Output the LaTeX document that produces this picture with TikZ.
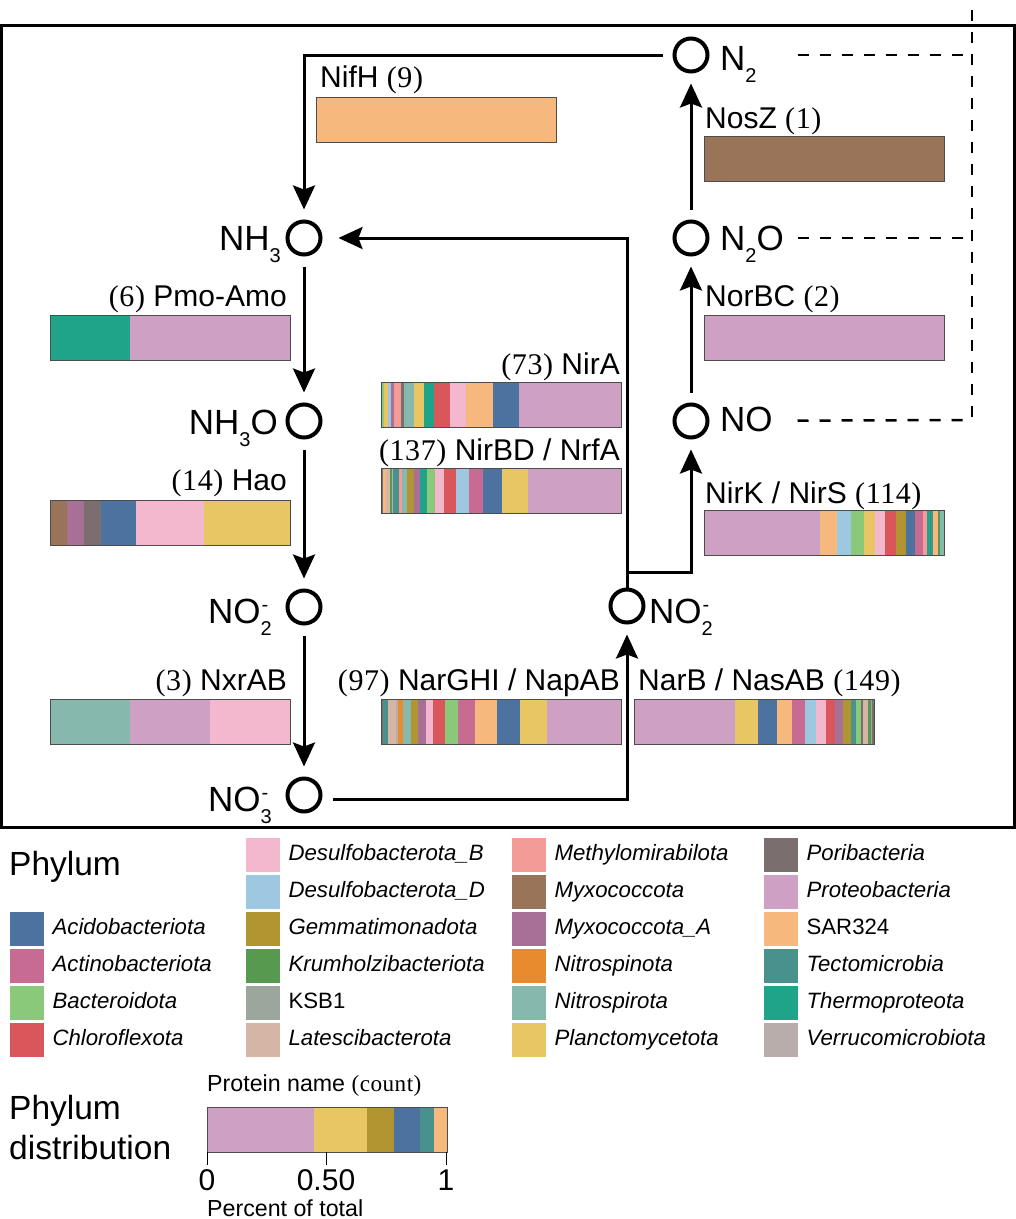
\documentclass[tikz,border=0pt]{standalone}
\usepackage{fontspec}
\usepackage{xcolor}
\setmainfont{Liberation Sans}
\newfontfamily\countfont[LetterSpace=2]{Liberation Serif}
\usetikzlibrary{arrows.meta}

\definecolor{phAcido}{HTML}{4C72A0}
\definecolor{phActino}{HTML}{C76B92}
\definecolor{phBactero}{HTML}{8BC97A}
\definecolor{phChloro}{HTML}{D9575B}
\definecolor{phDesulfB}{HTML}{F4B8CE}
\definecolor{phDesulfD}{HTML}{9EC8E2}
\definecolor{phGemma}{HTML}{B09530}
\definecolor{phKrumh}{HTML}{57994F}
\definecolor{phKSB}{HTML}{9CA69C}
\definecolor{phLatesci}{HTML}{D4B5A6}
\definecolor{phMethyl}{HTML}{F29B97}
\definecolor{phMyxo}{HTML}{9A7459}
\definecolor{phMyxoA}{HTML}{A87096}
\definecolor{phNitrospin}{HTML}{E88A2E}
\definecolor{phNitrospir}{HTML}{86B8AE}
\definecolor{phPlancto}{HTML}{E8C664}
\definecolor{phPori}{HTML}{7A6E6E}
\definecolor{phProteo}{HTML}{CDA0C4}
\definecolor{phSAR}{HTML}{F6B87C}
\definecolor{phTecto}{HTML}{48918C}
\definecolor{phThermo}{HTML}{1FA48A}
\definecolor{phVerruco}{HTML}{B8ADAA}

\newcommand{\cnt}[1]{{\countfont #1}}
\newcommand{\chemsub}[1]{\raisebox{-12pt}{\fontsize{20}{20}\selectfont #1}}
\newcommand{\chemion}[1]{\rlap{\raisebox{-12pt}{\fontsize{20}{20}\selectfont #1}}\raisebox{12pt}{\fontsize{20}{20}\selectfont\hspace{1pt}-}}
% barra apilada: x, y, total, lista color/cuenta
\newcommand{\stackbar}[4]{%
  \gdef\barpos{0}
  \foreach \col/\num in {#4}{
    \pgfmathsetmacro\barnext{\barpos+\num}
    \fill[\col] ({#1+240/#3*\barpos},#2) rectangle ({#1+240/#3*\barnext},#2+45);
    \global\let\barpos\barnext
  }
  \draw[barframe] (#1,#2) rectangle ++(240,45);
}

\begin{document}
\begin{tikzpicture}[x=1pt,y=-1pt,
  chem/.style={circle,draw,line width=4pt,minimum size=33pt,inner sep=0pt},
  chemlabel/.style={font=\fontsize{35}{35}\selectfont,inner sep=0pt},
  protein/.style={font=\fontsize{30}{30}\selectfont,inner sep=0pt},
  flow/.style={-{Stealth[length=24pt,width=22pt,inset=4pt]},line width=3pt,shorten >=10pt,shorten <=10pt},
  link/.style={line width=2.5pt,dash pattern=on 11pt off 11pt},
  barframe/.style={draw=black!70,line width=1pt},
  swatch/.style={minimum size=34pt,inner sep=0pt},
  phylumlabel/.style={font=\fontsize{22.2}{24}\selectfont\itshape,inner sep=0pt},
  heading/.style={font=\fontsize{33.5}{34}\selectfont,inner sep=0pt},
  small/.style={font=\fontsize{23.2}{24}\selectfont,inner sep=0pt},
  ticklabel/.style={font=\fontsize{30}{30}\selectfont,inner sep=0pt}]
\useasboundingbox (0,0) rectangle (1016,1219);

% Marco
\draw[line width=3pt] (1,25) rectangle (1014,827);
\draw[line width=3pt] (0,827) -- (1016,827);

% Compuestos
\node[chem] (n2) at (691,55) {};
\node[chem] (n2o) at (691,238) {};
\node[chem] (no) at (691,421) {};
\node[chem] (nh3) at (304,238) {};
\node[chem] (nh2o) at (304,421) {};
\node[chem] (no2a) at (304,607) {};
\node[chem] (no3) at (304,795) {};
\node[chem] (no2b) at (627,606) {};
\node[chemlabel,anchor=base west] (n2text) at (720,70) {N\chemsub{2}};
\node[chemlabel,anchor=base west] (n2otext) at (720,250) {N\chemsub{2}O};
\node[chemlabel,anchor=base west] (notext) at (720,431) {NO};
\node[chemlabel,anchor=base east] (nh3text) at (281,250) {NH\chemsub{3}};
\node[chemlabel,anchor=base east] (nh2otext) at (278,434) {NH\chemsub{3}O};
\node[chemlabel,anchor=base west] (no2atext) at (208,623) {NO\chemion{2}};
\node[chemlabel,anchor=base west] (no3text) at (208,811) {NO\chemion{3}};
\node[chemlabel,anchor=base west] (no2btext) at (649,623) {NO\chemion{2}};

% Flechas
\coordinate (branch) at (627,572);
\coordinate (no3out) at (333,799);
\draw[flow] (n2) -| (nh3);
\draw[flow] (nh3) -- (nh2o);
\draw[flow] (nh2o) -- (no2a);
\draw[flow] (no2a) -- (no3);
\draw[flow,shorten <=0pt] (no3out) -| (no2b);
\draw[flow,shorten <=0pt,shorten >=16pt] (no2b) |- (nh3);
\draw[flow,shorten <=0pt] (branch) -| (no);
\draw[flow] (no) -- (n2o);
\draw[flow] (n2o) -- (n2);

% Lineas discontinuas
\coordinate (dashtop) at (972,10);
\coordinate (dashn2) at (972,55);
\coordinate (dashn2o) at (972,238);
\coordinate (dashno) at (972,420);
\draw[link,shorten <=88pt] (n2) -- (dashn2);
\draw[link,shorten <=88pt] (n2o) -- (dashn2o);
\draw[link,shorten <=88pt] (no) -- (dashno);
\draw[link] (dashtop) -- (dashno);

% Barras de proteinas
\stackbar{316}{97}{1}{phSAR/1}
\stackbar{704}{136}{1}{phMyxo/1}
\stackbar{704}{315}{1}{phProteo/1}
\stackbar{50}{315}{3}{phThermo/1,phProteo/2}
\stackbar{50}{500}{14}{phMyxo/1,phMyxoA/1,phPori/1,phAcido/2,phDesulfB/4,phPlancto/5}
\stackbar{50}{699}{3}{phNitrospir/1,phProteo/1,phDesulfB/1}
\stackbar{381}{382}{73}{phBactero/1,phPlancto/1,phDesulfD/1,phMyxoA/1,phMethyl/2,phPori/1,phNitrospir/3,phPlancto/3,phThermo/3,phChloro/5,phDesulfB/5,phSAR/8,phAcido/8,phProteo/31}
\stackbar{381}{468}{137}{phPori/1,phSAR/2,phLatesci/2,phKrumh/1,phVerruco/1,phTecto/3,phMethyl/2,phNitrospir/3,phGemma/4,phMyxoA/3,phThermo/4,phBactero/5,phDesulfB/5,phChloro/7,phDesulfD/7,phActino/8,phAcido/11,phPlancto/15,phProteo/53}
\stackbar{381}{699}{97}{phPori/1,phTecto/2,phLatesci/3,phVerruco/1,phNitrospin/2,phNitrospir/3,phGemma/3,phMyxoA/3,phDesulfB/3,phChloro/5,phBactero/5,phActino/7,phSAR/9,phAcido/9,phPlancto/11,phProteo/30}
\stackbar{634}{699}{149}{phProteo/63,phPlancto/14,phAcido/12,phSAR/9,phActino/8,phDesulfD/7,phDesulfB/6,phChloro/6,phMyxoA/5,phGemma/5,phTecto/3,phBactero/3,phPori/1,phLatesci/3,phKrumh/2,phKSB/1,phPori/1}
\stackbar{704}{510}{114}{phProteo/55,phSAR/8,phDesulfD/7,phBactero/6,phPlancto/5,phDesulfB/5,phChloro/5,phGemma/5,phAcido/4,phActino/4,phMethyl/2,phThermo/2,phTecto/1,phSAR/2,phKrumh/1,phNitrospir/2}

% Nombres de proteinas
\node[protein,anchor=base west] (nifh) at (320,87) {NifH \cnt{(9)}};
\node[protein,anchor=base west] (nosz) at (705,128) {NosZ \cnt{(1)}};
\node[protein,anchor=base west] (norbc) at (705,306) {NorBC \cnt{(2)}};
\node[protein,anchor=base west] (nirk) at (705,503) {NirK / NirS \cnt{(114)}};
\node[protein,anchor=base east] (pmo) at (287,306) {\cnt{(6)} Pmo-Amo};
\node[protein,anchor=base east] (hao) at (287,490) {\cnt{(14)} Hao};
\node[protein,anchor=base east] (nxr) at (287,690) {\cnt{(3)} NxrAB};
\node[protein,anchor=base east] (nira) at (620,374) {\cnt{(73)} NirA};
\node[protein,anchor=base east] (nirbd) at (620,460) {\cnt{(137)} NirBD / NrfA};
\node[protein,anchor=base east] (nar) at (620,690) {\cnt{(97)} NarGHI / NapAB};
\node[protein,anchor=base west] (narb) at (638,690) {NarB / NasAB \cnt{(149)}};

% Leyenda de filos
\node[heading,anchor=base west] (phylumhead) at (9,875) {Phylum};
\foreach \x/\y/\col/\name [count=\i] in {
  10/912/phAcido/Acidobacteriota,10/949/phActino/Actinobacteriota,10/986/phBactero/Bacteroidota,10/1023/phChloro/Chloroflexota,
  246/838/phDesulfB/Desulfobacterota\_B,246/875/phDesulfD/Desulfobacterota\_D,246/912/phGemma/Gemmatimonadota,246/949/phKrumh/Krumholzibacteriota,246/986/phKSB/{\upshape KSB1},246/1023/phLatesci/Latescibacterota,
  512/838/phMethyl/Methylomirabilota,512/875/phMyxo/Myxococcota,512/912/phMyxoA/Myxococcota\_A,512/949/phNitrospin/Nitrospinota,512/986/phNitrospir/Nitrospirota,512/1023/phPlancto/Planctomycetota,
  764/838/phPori/Poribacteria,764/875/phProteo/Proteobacteria,764/912/phSAR/{\upshape SAR324},764/949/phTecto/Tectomicrobia,764/986/phThermo/Thermoproteota,764/1023/phVerruco/Verrucomicrobiota}{
  \node[swatch,fill=\col,anchor=north west] (swatch\i) at (\x,\y) {};
  \node[phylumlabel,anchor=base west] (name\i) at ([xshift=8pt,yshift=-5pt]swatch\i.east) {\name};
}

% Barra de ejemplo
\node[heading,anchor=base west] (disthead) at (9,1119) {Phylum};
\node[heading,anchor=base west] (disthead2) at (9,1159) {distribution};
\node[small,anchor=base west] (protname) at (207,1091) {Protein name \cnt{(count)}};
\stackbar{207}{1107}{18}{phProteo/8,phPlancto/4,phGemma/2,phAcido/2,phTecto/1,phSAR/1}
\foreach \x/\lab [count=\i] in {207/0,326/0.50,446/1}{
  \coordinate (tick\i) at (\x,1152);
  \draw[line width=1pt] (tick\i) -- ++(0,13);
  \node[ticklabel,anchor=base] (ticklab\i) at (\x,1190) {\lab};
}
\node[small,anchor=base west] (percent) at (207,1216) {Percent of total};
\end{tikzpicture}
\end{document}
